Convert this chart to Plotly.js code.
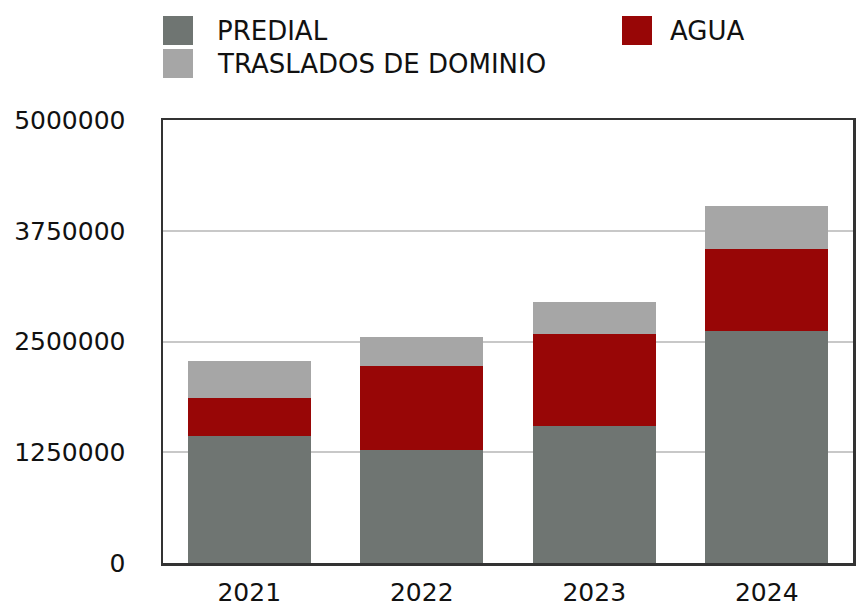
<!DOCTYPE html>
<html>
<head>
<meta charset="utf-8">
<script src="https://cdn.plot.ly/plotly-3.0.1.min.js"></script>
<style>html,body{margin:0;padding:0;background:#fff;}</style>
</head>
<body>
<div id="chart" style="width:860px;height:606px;"></div>
<script>
const years = ["2021", "2022", "2023", "2024"];
const predial = [1434000, 1281000, 1548000, 2615000];
const agua = [423000, 938000, 1033000, 928000];
const traslados = [419000, 329000, 362000, 490000];
const seriesNames = ["PREDIAL", "AGUA", "TRASLADOS DE DOMINIO"];
const seriesColors = ["#6f7572", "#980606", "#a6a6a6"];
const yTicks = [0, 1250000, 2500000, 3750000, 5000000];
const yTickText = ["0", "1250000", "2500000", "3750000", "5000000"];

const font = "DejaVu Sans, sans-serif";
const values = [predial, agua, traslados];
const traces = values.map((v, i) => ({
  type: "bar",
  x: years,
  y: v,
  name: seriesNames[i],
  marker: {color: seriesColors[i], line: {width: 0}},
  showlegend: false,
  hoverinfo: "x+y+name"
}));

// Custom legend (swatch + label) in pixel-derived paper coords
const W = 860, H = 606;
const mL = 163, mR = 7, mT = 120, mB = 43;
const pw = W - mL - mR, ph = H - mT - mB;
function px(x) { return (x - mL) / pw; }
function py(y) { return (H - mB - y) / ph; }
const legendPos = [
  {sx: 163, sy: 16, tx: 215, ty: 31},
  {sx: 622, sy: 16, tx: 668, ty: 31},
  {sx: 163, sy: 49, tx: 215, ty: 64}
];
const shapes = [];
const annotations = [];
legendPos.forEach((p, i) => {
  shapes.push({type: "rect", xref: "paper", yref: "paper",
    x0: px(p.sx), x1: px(p.sx + 30), y0: py(p.sy + 29), y1: py(p.sy),
    fillcolor: seriesColors[i], line: {width: 0}});
  annotations.push({xref: "paper", yref: "paper", x: px(p.tx), y: py(p.ty),
    xanchor: "left", yanchor: "middle", showarrow: false,
    text: seriesNames[i], font: {family: font, size: 26, color: "#111"}});
});

const layout = {
  width: W, height: H,
  margin: {l: mL, r: mR, t: mT, b: mB, pad: 0},
  paper_bgcolor: "#fff", plot_bgcolor: "#fff",
  barmode: "stack",
  bargap: 0.288,
  showlegend: false,
  font: {family: font, size: 25, color: "#111"},
  xaxis: {
    type: "category",
    showline: true, mirror: true, linecolor: "#333", linewidth: 2.5,
    showgrid: false, ticks: "", ticklabelstandoff: 5,
    tickfont: {family: font, size: 25, color: "#111"}
  },
  yaxis: {
    range: [0, 5000000],
    tickvals: yTicks, ticktext: yTickText,
    showline: true, mirror: true, linecolor: "#333", linewidth: 2.5,
    showgrid: true, gridcolor: "#c8c8c8", gridwidth: 2,
    zeroline: false, ticks: "", ticklabelstandoff: 30,
    tickfont: {family: font, size: 25, color: "#111"}
  },
  shapes: shapes,
  annotations: annotations
};

Plotly.newPlot("chart", traces, layout, {displayModeBar: false, staticPlot: true});
</script>
</body>
</html>
